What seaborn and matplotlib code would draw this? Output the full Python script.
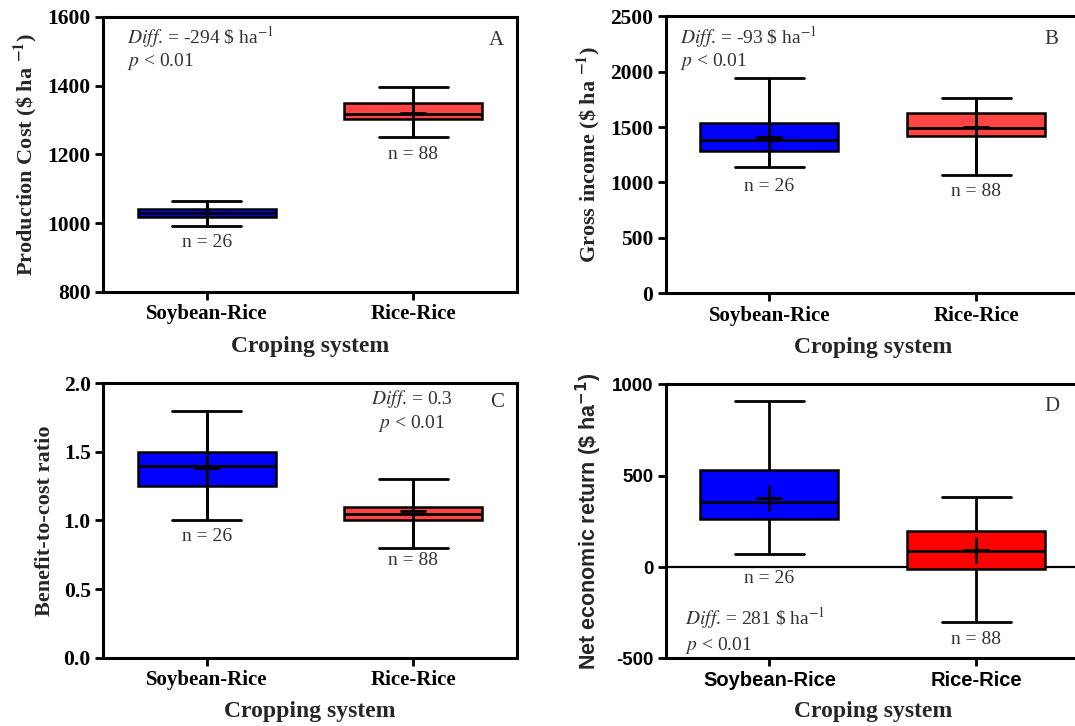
import numpy as np
import pandas as pd
import matplotlib
matplotlib.use("Agg")
import matplotlib.pyplot as plt
import seaborn as sns

# ---------------- data ----------------
systems = ["Soybean-Rice", "Rice-Rice"]
n_obs = [26, 88]

# five-number summaries: min, Q1, median, Q3, max
cost_soy = [992, 1019, 1030, 1041, 1065]
cost_rice = [1252, 1303, 1317, 1349, 1395]
cost_mean = [1030, 1321]

gross_soy = [1138, 1280, 1385, 1536, 1946]
gross_rice = [1063, 1415, 1488, 1629, 1759]
gross_mean = [1406, 1500]

bcr_soy = [1.00, 1.25, 1.40, 1.50, 1.80]
bcr_rice = [0.80, 1.00, 1.05, 1.10, 1.30]
bcr_mean = [1.385, 1.07]

net_soy = [70, 265, 355, 530, 905]
net_rice = [-300, -10, 85, 195, 380]
net_mean = [375, 95]

diff_texts = ["-294 \\$ ha$^{-1}$", "-93 \\$ ha$^{-1}$", "0.3", "281 \\$ ha$^{-1}$"]
panel_letters = ["A", "B", "C", "D"]

# ---------------- style ----------------
sns.set_style("ticks")
plt.rcParams["font.family"] = ["Liberation Serif", "DejaVu Serif"]
plt.rcParams["axes.unicode_minus"] = False
plt.rcParams["axes.linewidth"] = 2.2
plt.rcParams["axes.edgecolor"] = "black"

SERIF = ["Liberation Serif", "DejaVu Serif"]
SANS = ["Liberation Sans", "DejaVu Sans"]
TXT = "#333333"

fig = plt.figure(figsize=(10.75, 7.26), dpi=100)

panels = [
    dict(rect=[0.0961, 0.5978, 0.3844, 0.379], soy=cost_soy, rice=cost_rice, mean=cost_mean,
         colors=["#0000FF", "#FF4444"], ylim=(800, 1600), yticks=[800, 1000, 1200, 1400, 1600],
         fmt="{:.0f}", ylabel=r"Production Cost (\$ ha $^{\mathbf{-1}}$)", yfam=SERIF, mfam="stix",
         xlabel="Croping system", tickfam=SERIF, through=True, noff=[17, 18],
         diff_xy=(0.058, 0.925), diff_ha="left", p_xy=(0.058, 0.838), letter_xy=(0.95, 0.915)),
    dict(rect=[0.6195, 0.5964, 0.3851, 0.381], soy=gross_soy, rice=gross_rice, mean=gross_mean,
         colors=["#0000FF", "#FF4444"], ylim=(0, 2500), yticks=[0, 500, 1000, 1500, 2000, 2500],
         fmt="{:.0f}", ylabel=r"Gross income (\$ ha $^{\mathbf{-1}}$)", yfam=SERIF, mfam="stix",
         xlabel="Croping system", tickfam=SERIF, through=True, noff=[19, 16],
         diff_xy=(0.034, 0.926), diff_ha="left", p_xy=(0.034, 0.837), letter_xy=(0.932, 0.916)),
    dict(rect=[0.0961, 0.0941, 0.3844, 0.378], soy=bcr_soy, rice=bcr_rice, mean=bcr_mean,
         colors=["#0000FF", "#FF4444"], ylim=(0, 2.0), yticks=[0.0, 0.5, 1.0, 1.5, 2.0],
         fmt="{:.1f}", ylabel="Benefit-to-cost ratio", yfam=SERIF, mfam="stix",
         xlabel="Cropping system", tickfam=SERIF, through=True, noff=[16, 13],
         diff_xy=(0.747, 0.942), diff_ha="center", p_xy=(0.746, 0.853), letter_xy=(0.954, 0.929)),
    dict(rect=[0.6195, 0.093, 0.3851, 0.378], soy=net_soy, rice=net_rice, mean=net_mean,
         colors=["#0000FF", "#FF0000"], ylim=(-500, 1000), yticks=[-500, 0, 500, 1000],
         fmt="{:.0f}", ylabel=r"Net economic return (\$ ha$^{\mathbf{-1}}$)", yfam=SANS, mfam="dejavusans",
         xlabel="Croping system", tickfam=SANS, through=False, noff=[24, 18],
         diff_xy=(0.046, 0.146), diff_ha="left", p_xy=(0.046, 0.049), letter_xy=(0.932, 0.917)),
]

for k, P in enumerate(panels):
    ax = fig.add_axes(P["rect"])
    df = pd.DataFrame({
        "system": [systems[0]] * len(P["soy"]) + [systems[1]] * len(P["rice"]),
        "value": list(P["soy"]) + list(P["rice"]),
    })
    if k == 3:
        ax.axhline(0, color="black", lw=1.6, zorder=0.5)
    sns.boxplot(data=df, x="system", y="value", hue="system", order=systems, hue_order=systems,
                palette=P["colors"], saturation=1, legend=False, whis=(0, 100), width=0.667,
                linewidth=1.8, linecolor="black", showfliers=False,
                medianprops={"linewidth": 2.0}, whiskerprops={"linewidth": 2.0},
                capprops={"linewidth": 2.0}, ax=ax)
    if P["through"]:
        sns.pointplot(data=df, x="system", y="value", order=systems, estimator="median",
                      errorbar=("pi", 100), marker="none", linestyle="none", color="black",
                      err_kws={"linewidth": 2.0}, ax=ax)
    sns.pointplot(x=systems, y=P["mean"], order=systems, errorbar=None, marker="+",
                  linestyle="none", color="black", markersize=19, markeredgewidth=2.0, ax=ax)

    ax.set_xlim(-0.5, 1.5)
    ax.set_ylim(*P["ylim"])
    ax.set_yticks(P["yticks"], labels=[P["fmt"].format(v) for v in P["yticks"]],
                  fontfamily=P["tickfam"], fontweight="bold", fontsize=15.5 if k < 3 else 13.5)
    ax.set_xticks([0, 1], labels=systems, fontfamily=P["tickfam"], fontweight="bold",
                  fontsize=15 if k < 3 else 14.5)
    ax.tick_params(axis="both", direction="out", length=6, width=2.0, colors="black", pad=3)
    for s in ax.spines.values():
        s.set_visible(True)
        s.set_linewidth(2.2)
        s.set_color("black")

    ax.set_xlabel(P["xlabel"], fontfamily=SERIF, fontweight="bold", fontsize=17, labelpad=8)
    ax.set_ylabel(P["ylabel"], fontfamily=P["yfam"], fontweight="bold",
                  fontsize=16 if k < 3 else 15.5, math_fontfamily=P["mfam"], labelpad=6)

    # n labels
    mins = [min(P["soy"]), min(P["rice"])]
    for i in range(2):
        ax.annotate(f"n = {n_obs[i]}", xy=(i, mins[i]), xytext=(0, -P["noff"][i]),
                    textcoords="offset pixels", ha="center", va="center",
                    fontfamily=SERIF, fontsize=14, color=TXT)

    # Diff / p texts
    ax.text(*P["diff_xy"], r"$\mathit{Diff}$. = " + diff_texts[k], transform=ax.transAxes,
            ha=P["diff_ha"], va="center", fontfamily=SERIF, fontsize=14, color=TXT,
            math_fontfamily="stix")
    ax.text(*P["p_xy"], r"$\mathit{p}$ < 0.01", transform=ax.transAxes,
            ha=P["diff_ha"], va="center", fontfamily=SERIF, fontsize=14, color=TXT,
            math_fontfamily="stix")
    ax.text(*P["letter_xy"], panel_letters[k], transform=ax.transAxes, ha="center", va="center",
            fontfamily=SERIF, fontsize=15, color=TXT)

fig.savefig("out.png", dpi=100)
